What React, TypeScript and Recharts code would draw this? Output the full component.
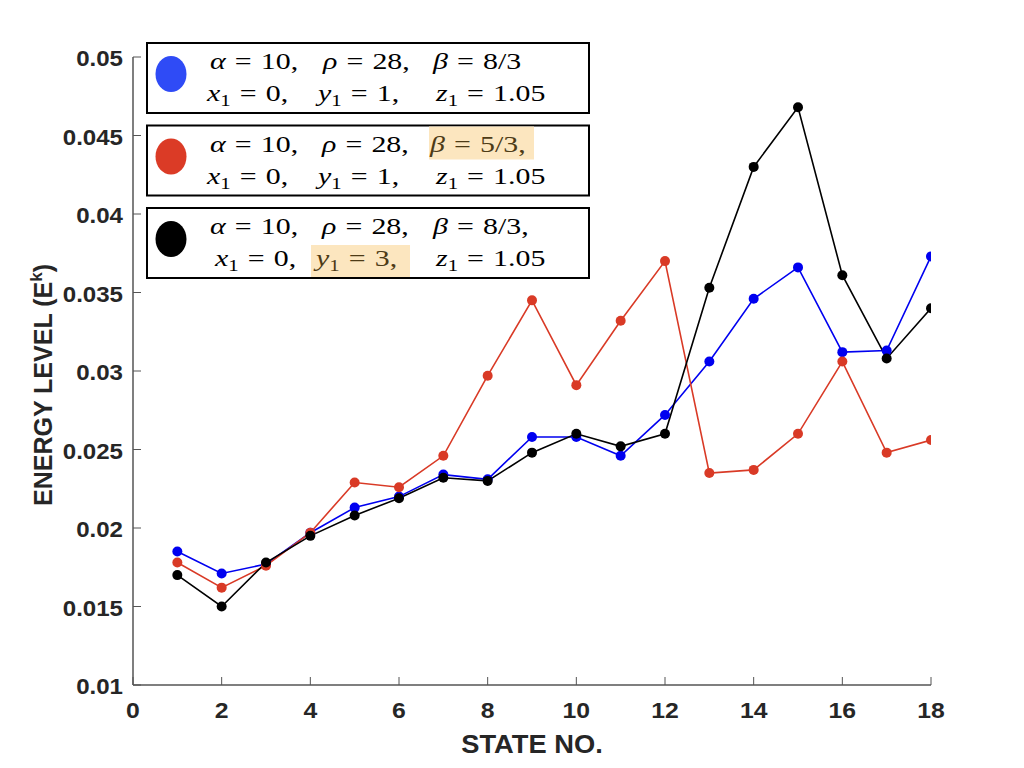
import { LineChart, Line, XAxis, YAxis } from 'recharts'

const states = [1, 2, 3, 4, 5, 6, 7, 8, 9, 10, 11, 12, 13, 14, 15, 16, 17, 18]
const blueEnergy = [0.0185, 0.0171, 0.0177, 0.0197, 0.0213, 0.022, 0.0234, 0.0231, 0.0258, 0.0258, 0.0246, 0.0272, 0.0306, 0.0346, 0.0366, 0.0312, 0.0313, 0.0373]
const redEnergy = [0.0178, 0.0162, 0.0176, 0.0197, 0.0229, 0.0226, 0.0246, 0.0297, 0.0345, 0.0291, 0.0332, 0.037, 0.0235, 0.0237, 0.026, 0.0306, 0.0248, 0.0256]
const blackEnergy = [0.017, 0.015, 0.0178, 0.0195, 0.0208, 0.0219, 0.0232, 0.023, 0.0248, 0.026, 0.0252, 0.026, 0.0353, 0.043, 0.0468, 0.0361, 0.0308, 0.034]
const xTicks = [0, 2, 4, 6, 8, 10, 12, 14, 16, 18]
const yTicks = [0.01, 0.015, 0.02, 0.025, 0.03, 0.035, 0.04, 0.045, 0.05]

// legend text: [variable, subscript, value] per group, start x of each group
const legendRows = [
  {
    color: '#2f4bf6',
    line1: [['α', '', '10,'], ['ρ', '', '28,'], ['β', '', '8/3']],
    line2: [['x', '1', '0,'], ['y', '1', '1,'], ['z', '1', '1.05']],
    x1: [210, 323, 433],
    x2: [207, 318, 436],
    mark: null as null | { line: number; group: number },
  },
  {
    color: '#db3b26',
    line1: [['α', '', '10,'], ['ρ', '', '28,'], ['β', '', '5/3,']],
    line2: [['x', '1', '0,'], ['y', '1', '1,'], ['z', '1', '1.05']],
    x1: [210, 322, 430],
    x2: [207, 318, 436],
    mark: { line: 1, group: 2 },
  },
  {
    color: '#000000',
    line1: [['α', '', '10,'], ['ρ', '', '28,'], ['β', '', '8/3,']],
    line2: [['x', '1', '0,'], ['y', '1', '3,'], ['z', '1', '1.05']],
    x1: [210, 322, 433],
    x2: [215, 316, 436],
    mark: { line: 2, group: 1 },
  },
]

const data = states.map((s, i) => ({
  state: s,
  blue: blueEnergy[i],
  red: redEnergy[i],
  black: blackEnergy[i],
}))

const AXIS = '#555'
const TXT = '#262626'
const SANS = '"Liberation Sans", Arial, sans-serif'
const SERIF = '"Liberation Serif", "Times New Roman", serif'

function YTick({ x, y, payload }: any) {
  return (
    <g>
      <line x1={x} x2={x + 8} y1={y} y2={y} stroke={AXIS} />
      <text transform={`translate(${x - 10},${y + 9}) scale(1.12,1)`} textAnchor="end" fontFamily={SANS} fontWeight="bold" fontSize={21.5} fill={TXT}>
        {String(payload.value)}
      </text>
    </g>
  )
}

function XTick({ x, y, payload }: any) {
  return (
    <g>
      <line x1={x} x2={x} y1={y} y2={y - 8} stroke={AXIS} />
      <text transform={`translate(${x},${y + 33}) scale(1.1,1)`} textAnchor="middle" fontFamily={SANS} fontWeight="bold" fontSize={22.5} fill={TXT}>
        {payload.value}
      </text>
    </g>
  )
}

function XTitle({ viewBox }: any) {
  return (
    <text transform={`translate(${viewBox.x + viewBox.width / 2},${viewBox.y + 68}) scale(1.05,1)`} textAnchor="middle" fontFamily={SANS} fontWeight="bold" fontSize={26} fill={TXT}>
      STATE NO.
    </text>
  )
}

function YTitle({ viewBox }: any) {
  const cy = viewBox.y + viewBox.height / 2 + 14
  return (
    <text transform={`translate(52,${cy}) rotate(-90)`} textAnchor="middle" fontFamily={SANS} fontWeight="bold" fontSize={25} fill={TXT}>
      ENERGY LEVEL (E<tspan dy={-10} fontSize={17}>k</tspan><tspan dy={10}>)</tspan>
    </text>
  )
}

function Group({ x, y, g, color }: { x: number; y: number; g: string[]; color: string }) {
  const [v, sub, val] = g
  return (
    <text transform={`translate(${x},${y}) scale(1.3,1)`} fontFamily={SERIF} fontSize={23} fill={color}>
      <tspan fontStyle="italic">{v}</tspan>
      {sub ? <tspan fontSize={16} dy={5}>{sub}</tspan> : null}
      <tspan dx={7} dy={sub ? -5 : 0}>=</tspan>
      <tspan dx={7}>{val}</tspan>
    </text>
  )
}

function LegendBoxes() {
  return (
    <svg width={1024} height={768} style={{ position: 'absolute', left: 0, top: 0, pointerEvents: 'none' }}>
      {legendRows.map((r, i) => {
        const top = 43 + i * 82.5
        return (
          <g key={i}>
            <rect x={147} y={top} width={442} height={70} fill="#fff" stroke="#000" strokeWidth={2} />
            {r.mark ? (
              r.mark.line === 1 ? (
                <rect x={429} y={top + 1} width={105} height={33} fill="#fce6bf" />
              ) : (
                <rect x={311} y={top + 37} width={99} height={32} fill="#fce6bf" />
              )
            ) : null}
            <ellipse cx={171} cy={top + 31} rx={15.5} ry={18} fill={r.color} />
            {r.line1.map((g, j) => (
              <Group key={'a' + j} x={r.x1[j]} y={top + 26} g={g}
                color={r.mark && r.mark.line === 1 && r.mark.group === j ? '#4d3b16' : '#000'} />
            ))}
            {r.line2.map((g, j) => (
              <Group key={'b' + j} x={r.x2[j]} y={top + 58} g={g}
                color={r.mark && r.mark.line === 2 && r.mark.group === j ? '#4d3b16' : '#000'} />
            ))}
          </g>
        )
      })}
    </svg>
  )
}

export default function App() {
  return (
    <div style={{ position: 'absolute', left: 0, top: 0, width: 1024, height: 768, background: '#fff' }}>
      <LineChart width={1024} height={768} data={data} margin={{ top: 57, right: 93, bottom: 0, left: 0 }}>
        <XAxis
          type="number"
          dataKey="state"
          domain={[0, 18]}
          ticks={xTicks}
          height={83}
          tickSize={0}
          tickMargin={0}
          tickLine={false}
          axisLine={{ stroke: AXIS, strokeWidth: 1.5 }}
          tick={<XTick />}
          label={<XTitle />}
          allowDataOverflow
        />
        <YAxis
          type="number"
          domain={[0.01, 0.05]}
          ticks={yTicks}
          width={133}
          tickSize={0}
          tickMargin={0}
          tickLine={false}
          axisLine={{ stroke: AXIS, strokeWidth: 1.5 }}
          tick={<YTick />}
          label={<YTitle />}
          allowDataOverflow
        />
        <Line dataKey="blue" stroke="#0000f0" strokeWidth={1.6} dot={{ r: 5, fill: '#0000f0', stroke: 'none' }} isAnimationActive={false} />
        <Line dataKey="red" stroke="#d93a26" strokeWidth={1.6} dot={{ r: 5, fill: '#d93a26', stroke: 'none' }} isAnimationActive={false} />
        <Line dataKey="black" stroke="#000" strokeWidth={1.6} dot={{ r: 5, fill: '#000', stroke: 'none' }} isAnimationActive={false} />
      </LineChart>
      <LegendBoxes />
    </div>
  )
}
